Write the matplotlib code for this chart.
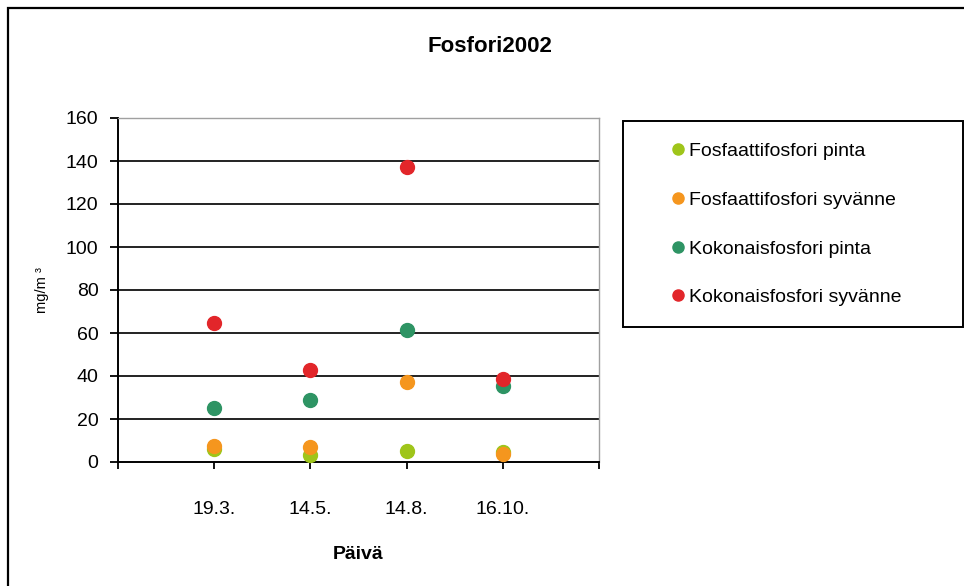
import matplotlib
matplotlib.use("Agg")
import matplotlib.pyplot as plt
from matplotlib.patches import Rectangle

plt.rcParams['font.family'] = ['Liberation Sans', 'DejaVu Sans']

dates = ['19.3.', '14.5.', '14.8.', '16.10.']
fosfaatti_pinta = [6, 3.3, 5.3, 4.8]
fosfaatti_syvanne = [7.6, 7.1, 37, 3.6]
kokonais_pinta = [25, 29, 61.5, 35.5]
kokonais_syvanne = [64.5, 43, 137, 38.5]

series = [
    ('Fosfaattifosfori pinta', fosfaatti_pinta, '#9fc51a'),
    ('Fosfaattifosfori syvänne', fosfaatti_syvanne, '#f5961e'),
    ('Kokonaisfosfori pinta', kokonais_pinta, '#2e9464'),
    ('Kokonaisfosfori syvänne', kokonais_syvanne, '#e2262a'),
]

W, H = 964, 586
fig = plt.figure(figsize=(W / 100, H / 100), dpi=100)
ax = fig.add_axes([118 / W, 1 - 462 / H, (599 - 118) / W, (462 - 118) / H])

xpos = list(range(1, len(dates) + 1))
for label, vals, col in series:
    ax.plot(xpos, vals, linestyle='none', marker='o', markersize=10,
            color=col, label=label, clip_on=False, zorder=3)

ax.set_xlim(0, len(dates) + 1)
ax.set_ylim(0, 160)
ax.set_yticks(range(0, 161, 20))
ax.set_xticks(range(0, len(dates) + 2))
ax.set_xticklabels([''] + dates + [''])
ax.tick_params(axis='y', direction='out', length=6, width=1.3, pad=8,
               labelsize=14, color='black')
ax.tick_params(axis='x', direction='out', length=5, width=1.3, pad=23,
               labelsize=14, color='black')
for y in range(20, 160, 20):
    ax.axhline(y, color='#111111', lw=1.3, zorder=1)

ax.spines['left'].set_color('black')
ax.spines['left'].set_linewidth(1.4)
ax.spines['bottom'].set_color('black')
ax.spines['bottom'].set_linewidth(1.4)
ax.spines['top'].set_color('#a0a0a0')
ax.spines['right'].set_color('#a0a0a0')
ax.spines['top'].set_linewidth(1.0)
ax.spines['right'].set_linewidth(1.0)

ax.set_ylabel('mg/m ³', fontsize=10.5, labelpad=12)
ax.set_xlabel('Päivä', fontsize=14, fontweight='bold', labelpad=20)
fig.text(490 / W, 1 - 46 / H, 'Fosfori2002', ha='center', va='center',
         fontsize=16, fontweight='bold')

# legend box
fig.patches.append(Rectangle((623 / W, 1 - 327 / H), (963 - 623) / W, (327 - 121) / H,
                             transform=fig.transFigure, fill=False,
                             edgecolor='black', lw=1.4))
leg = ax.legend(loc='upper left', bbox_to_anchor=(648 / W, 1 - 123 / H),
                bbox_transform=fig.transFigure, frameon=False, fontsize=14,
                handletextpad=0.0, handlelength=1.1, labelspacing=1.6,
                borderpad=0.5, markerscale=0.8)

# figure border
fig.patches.append(Rectangle((8 / W, -0.1), 1.2, (1 - 8 / H) + 0.1,
                             transform=fig.transFigure, fill=False,
                             edgecolor='black', lw=1.6))

fig.savefig('out.png', dpi=100)
